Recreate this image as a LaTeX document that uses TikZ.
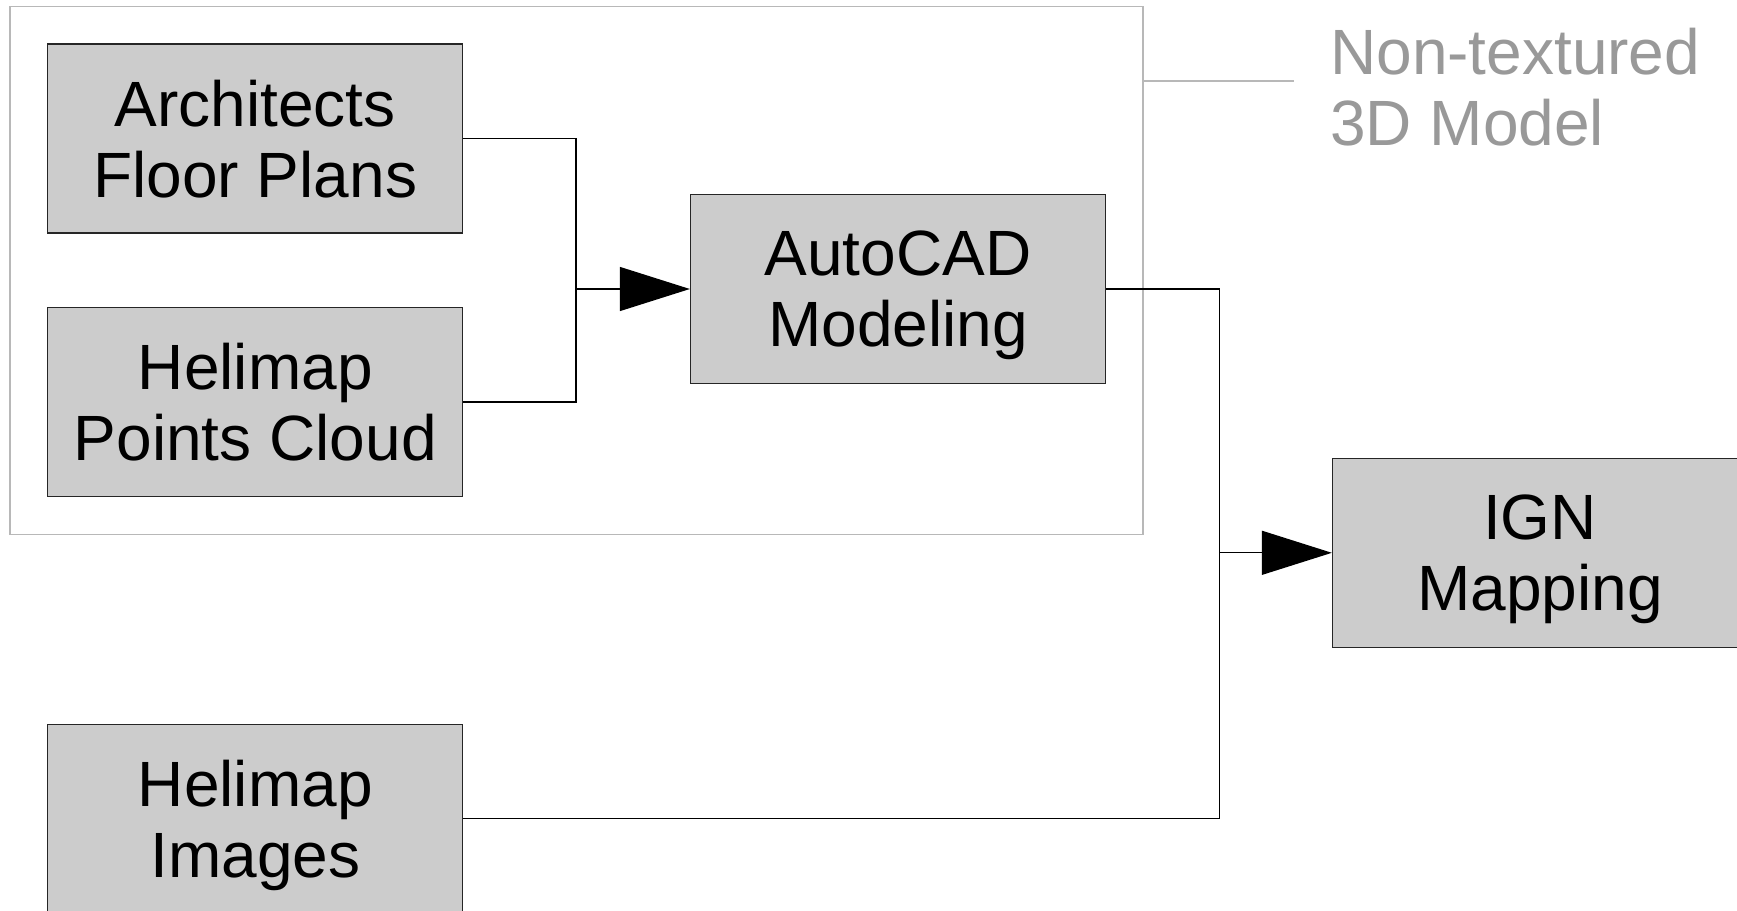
\documentclass[tikz,border=0pt]{standalone}
\usepackage{fontspec}
\setmainfont{Liberation Sans}
\usetikzlibrary{arrows.meta}
\definecolor{boxgray}{HTML}{CCCCCC}
\definecolor{grpgray}{HTML}{B8B8B8}
\definecolor{lblgray}{HTML}{999999}
\tikzset{
  stepbox/.style={draw=black!85, line width=1.3pt, fill=boxgray, minimum width=415pt, minimum height=189pt,
    inner sep=0pt, align=center, text depth=0pt, font=\fontsize{64}{71}\selectfont},
  conn/.style={draw=black, line width=1.3pt},
  arr/.style={conn, -{Triangle[length=70pt,width=44pt]}},
}
\begin{document}
\begin{tikzpicture}[x=1pt,y=-1pt]
\useasboundingbox (0,0) rectangle (1737,910);
\fill[white] (0,0) rectangle (1737,910);
% group frame
\node[draw=grpgray, line width=1.3pt, minimum width=1133pt, minimum height=528pt, inner sep=0pt] (grp) at (576.5,270.8) {};
% boxes
\node[stepbox] (arch) at (255.3,138.5) {Architects\\Floor Plans};
\node[stepbox] (pts) at (255.3,402) {Helimap\\Points Cloud};
\node[stepbox] (img) at (255.3,818.7) {Helimap\\Images};
\node[stepbox] (cad) at (898,289) {AutoCAD\\Modeling};
\node[stepbox] (ign) at (1540,552.8) {IGN\\Mapping};
% label
\node[anchor=west, align=left, text=lblgray, inner sep=0pt, font=\fontsize{64}{71}\selectfont] (lbl) at (1330,87) {Non-textured\\3D Model};
\coordinate (lblend) at (1294,81);
\draw[grpgray, line width=1.3pt] (grp.east |- lblend) -- (lblend);
% connectors
\coordinate (j1) at (576,289);
\coordinate (j2) at (1219.7,552.8);
\draw[conn] (arch.east) -| (j1);
\draw[conn] (pts.east) -| (j1);
\draw[arr] (j1) -- (cad.west);
\draw[conn] (cad.east) -| (j2);
\draw[conn] (img.east) -| (j2);
\draw[arr] (j2) -- (ign.west);
\end{tikzpicture}
\end{document}
